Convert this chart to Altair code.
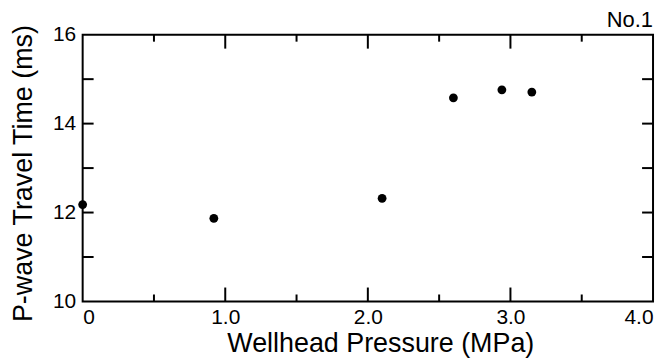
import altair as alt
import pandas as pd

pressure = [0.0, 0.92, 2.10, 2.60, 2.94, 3.15]
travel_time = [12.18, 11.87, 12.32, 14.58, 14.76, 14.71]

x_labels = [0.0, 1.0, 2.0, 3.0, 4.0]
x_major = [1.0, 2.0, 3.0]
x_minor = [0.5, 1.5, 2.5, 3.5]
y_labels = [10, 12, 14, 16]
y_inner = [11, 12, 13, 14, 15]
panel_label = ["No.1"]

FONT = "Liberation Sans"
W, H = 573, 268
xs = alt.Scale(domain=[0, 4], nice=False, zero=False)
ys = alt.Scale(domain=[10, 16], nice=False, zero=False)

df = pd.DataFrame({"p": pressure, "t": travel_time})

pts = alt.Chart(df).mark_circle(size=78, color="black", opacity=1, clip=False).encode(
    x=alt.X("p:Q", scale=xs, axis=alt.Axis(
        orient="bottom",
        values=x_labels, title="Wellhead Pressure (MPa)", ticks=False, domain=False,
        grid=False, labelExpr="datum.value == 0 ? '0' : format(datum.value, '.1f')",
        labelFlush=True, labelPadding=5, labelFontSize=21, titleFontSize=27,
        titlePadding=3, titleX=299, titleAlign="center")),
    y=alt.Y("t:Q", scale=ys, axis=alt.Axis(
        orient="left",
        values=y_labels, title="P-wave Travel Time (ms)", ticks=False, domain=False,
        grid=False, format="d", labelPadding=7, labelFontSize=21, titleFontSize=27,
        titlePadding=15, titleY=139, titleAlign="center")),
)

def xticks(vals, y0, y1):
    return alt.Chart(pd.DataFrame({"p": vals})).mark_rule(
        color="black", strokeWidth=2).encode(
        x=alt.X("p:Q", scale=xs, axis=None),
        y=alt.value(y0), y2=alt.value(y1))

def yticks(vals, x0, x1):
    return alt.Chart(pd.DataFrame({"t": vals})).mark_rule(
        color="black", strokeWidth=2).encode(
        y=alt.Y("t:Q", scale=ys, axis=None),
        x=alt.value(x0), x2=alt.value(x1))

ticks = [
    xticks(x_major, H, H - 14),
    xticks(x_minor, H, H - 7),
    xticks(x_major, 0, 14),
    xticks(x_minor, 0, 7),
    yticks(y_inner, 0, 11),
    yticks(y_inner, W, W - 11),
]

label = alt.Chart(pd.DataFrame({"label": panel_label})).mark_text(
    align="right", baseline="alphabetic", font=FONT, fontSize=22, color="black",
    clip=False,
).encode(text="label:N", x=alt.value(W), y=alt.value(-8))

chart = alt.layer(pts, *ticks, label).resolve_axis(
    x="independent", y="independent"
).properties(
    width=W, height=H,
    autosize=alt.AutoSizeParams(type="none"),
    padding={"left": 75, "top": 26, "right": 6, "bottom": 60},
).configure_axis(
    labelFont=FONT, titleFont=FONT, labelColor="black", titleColor="black",
    titleFontWeight="normal",
).configure_view(stroke="black", strokeWidth=2)

chart.save("out.html", embed_options={"renderer": "svg", "actions": False})
